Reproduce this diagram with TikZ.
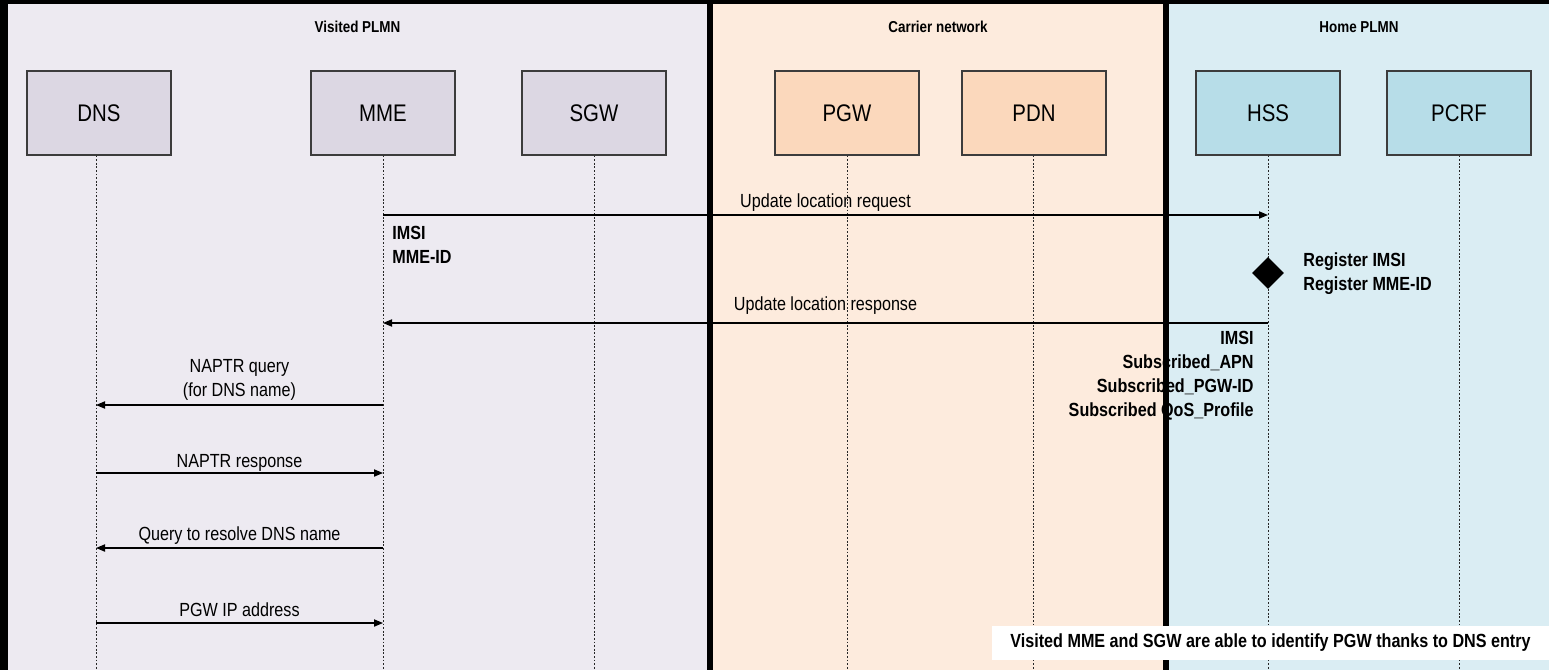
\documentclass[tikz,border=0pt]{standalone}
\usepackage{fontspec}
\setmainfont{Liberation Sans}[FakeStretch=0.85]
\usetikzlibrary{arrows.meta,shapes.geometric}

\definecolor{visitedbg}{RGB}{237,234,241}
\definecolor{carrierbg}{RGB}{253,235,221}
\definecolor{homebg}{RGB}{218,237,243}
\definecolor{visitedbox}{RGB}{220,215,227}
\definecolor{carrierbox}{RGB}{251,216,188}
\definecolor{homebox}{RGB}{183,221,232}
\definecolor{boxline}{RGB}{60,60,60}

\tikzset{
  entity/.style={draw=boxline, line width=0.6pt, minimum width=72pt,
    minimum height=42pt, inner sep=0pt, font=\fontsize{12}{14}\selectfont},
  lifeline/.style={line width=0.5pt, black!85, dash pattern=on 0.9pt off 0.9pt},
  msg/.style={line width=0.6pt, -{Triangle[length=4.5pt,width=3.6pt]}},
  msglabel/.style={font=\fontsize{9.5}{12}\selectfont, inner sep=0pt, align=center},
  infotext/.style={font=\bfseries\fontsize{9.5}{12}\selectfont, inner sep=0pt},
  paneltitle/.style={font=\bfseries\fontsize{7.9}{9}\selectfont, inner sep=0pt},
  separator/.style={fill=black}
}

\begin{document}
\begin{tikzpicture}[x=0.5pt,y=-0.5pt]
\useasboundingbox (0,0) rectangle (1549,670);

% network domains
\fill[visitedbg] (8,4) rectangle (707,670);
\fill[carrierbg] (713,4) rectangle (1163,670);
\fill[homebg] (1169,4) rectangle (1549,670);

\node[paneltitle] (tvisited) at (357.5,27) {Visited PLMN};
\node[paneltitle] (tcarrier) at (938,27) {Carrier network};
\node[paneltitle] (thome) at (1359,27) {Home PLMN};

% network elements
\node[entity, fill=visitedbox] (dns) at (99,113) {DNS};
\node[entity, fill=visitedbox] (mme) at (383,113) {MME};
\node[entity, fill=visitedbox] (sgw) at (594,113) {SGW};
\node[entity, fill=carrierbox] (pgw) at (847,113) {PGW};
\node[entity, fill=carrierbox] (pdn) at (1034,113) {PDN};
\node[entity, fill=homebox] (hss) at (1268,113) {HSS};
\node[entity, fill=homebox] (pcrf) at (1459,113) {PCRF};

% lifelines
\foreach \n/\x in {dns/96, mme/383, sgw/594, pgw/847, pdn/1033, hss/1268, pcrf/1459} {
  \coordinate (\n-end) at (\x,670);
  \draw[lifeline] (\n.south -| \n-end) -- (\n-end);
}

% message rows
\coordinate (r1) at (0,215);
\coordinate (r2) at (0,323);
\coordinate (r3) at (0,405);
\coordinate (r4) at (0,473);
\coordinate (r5) at (0,548);
\coordinate (r6) at (0,623);

\draw[msg] (mme-end |- r1) -- node[msglabel, anchor=base, yshift=4pt] (m1) {Update location request} (hss-end |- r1);
\node[infotext, anchor=west, align=left] (mmeinfo) at (392,245) {IMSI\\MME-ID};

\node[diamond, fill=black, inner sep=0pt, minimum width=16pt, minimum height=16pt] (reg) at (1268,273) {};
\node[infotext, anchor=west, align=left] (reginfo) at (1303,274) {Register IMSI\\Register MME-ID};

\draw[msg] (hss-end |- r2) -- node[msglabel, anchor=base, yshift=6.5pt] (m2) {Update location response} (mme-end |- r2);
\node[infotext, anchor=east, align=right] (hssinfo) at (1254,376)
  {IMSI\\Subscribed\_APN\\Subscribed\_PGW-ID\\Subscribed QoS\_Profile};

\draw[msg] (mme-end |- r3) -- node[msglabel, anchor=south, yshift=2pt] (m3) {NAPTR query\\(for DNS name)} (dns-end |- r3);
\draw[msg] (dns-end |- r4) -- node[msglabel, anchor=base, yshift=3pt] (m4) {NAPTR response} (mme-end |- r4);
\draw[msg] (mme-end |- r5) -- node[msglabel, anchor=base, yshift=4pt] (m5) {Query to resolve DNS name} (dns-end |- r5);
\draw[msg] (dns-end |- r6) -- node[msglabel, anchor=base, yshift=3.5pt] (m6) {PGW IP address} (mme-end |- r6);

% domain borders
\fill[separator] (0,0) rectangle (1549,4);
\fill[separator] (0,0) rectangle (8,670);
\fill[separator] (707,0) rectangle (713,670);
\fill[separator] (1163,0) rectangle (1169,670);

% closing remark
\node[fill=white, inner sep=0pt, minimum width=278.5pt, minimum height=17pt,
  font=\bfseries\fontsize{9.5}{12}\selectfont] (remark) at (1270.5,643)
  {Visited MME and SGW are able to identify PGW thanks to DNS entry};
\end{tikzpicture}
\end{document}
